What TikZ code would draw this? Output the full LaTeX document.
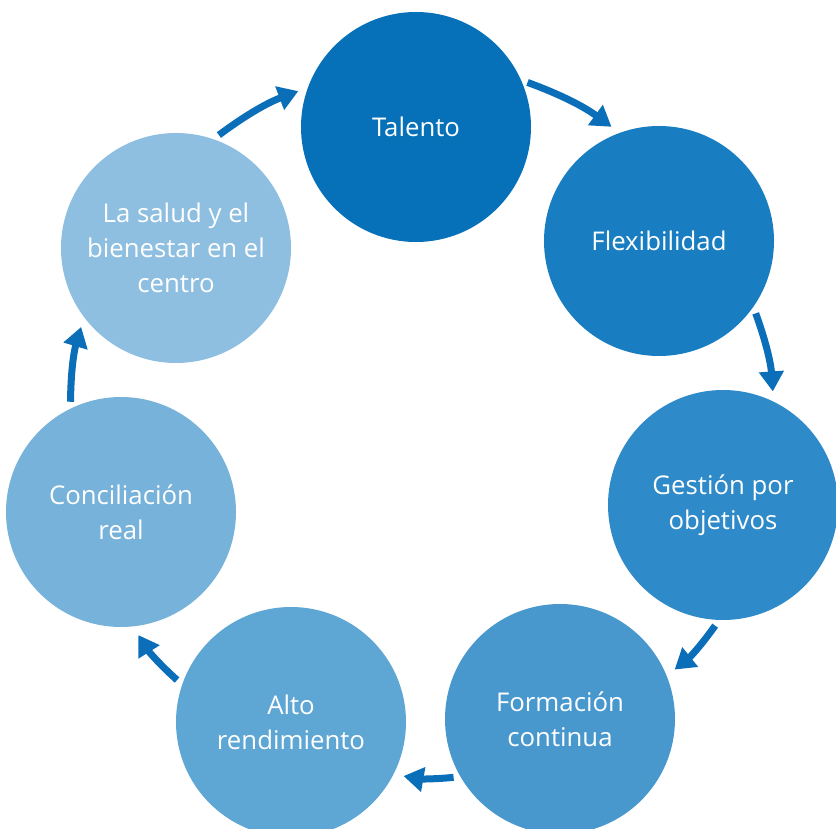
\documentclass[tikz,border=0pt]{standalone}
\usepackage{fontspec}
\setmainfont{Open Sans}
\usetikzlibrary{arrows.meta}
\definecolor{talento}{HTML}{0670B9}
\definecolor{flexi}{HTML}{197EC1}
\definecolor{gestion}{HTML}{2E8AC8}
\definecolor{formacion}{HTML}{4898CE}
\definecolor{alto}{HTML}{5EA6D4}
\definecolor{concilia}{HTML}{77B2DA}
\definecolor{salud}{HTML}{8EBEE0}
\definecolor{flechaazul}{HTML}{0A6FB8}
\begin{document}
\begin{tikzpicture}[x=0.03cm,y=0.03cm,
                        ciclo/.style={shape=circle,minimum size=6.9cm,inner sep=0pt,text=white,align=center,font=\fontsize{22}{30}\selectfont},
                        flecha/.style={-{Triangle[length=0.6cm,width=0.72cm]},line width=0.21cm,color=flechaazul,shorten <=0.2cm,shorten >=0.3cm}]
                        \useasboundingbox (0,0) rectangle (836,828);
                        \node[ciclo,fill=talento] at (416,701) (tal) {Talento};
                        \node[ciclo,fill=flexi] at (659,587) (flex) {Flexibilidad};
                        \node[ciclo,fill=gestion] at (723,323) (ges) {Gestión por\\objetivos};
                        \node[ciclo,fill=formacion] at (560,109) (form) {Formación\\continua};
                        \node[ciclo,fill=alto] at (291,106) (alto) {Alto\\rendimiento};
                        \node[ciclo,fill=concilia] at (121,316) (conc) {Conciliación\\real};
                        \node[ciclo,fill=salud] at (176,580) (sal) {La salud y el\\bienestar en el\\centro};
                        \draw[flecha] (sal.71) to[bend left=8] (tal.160);
                        \draw[flecha] (tal.24) to[bend left=8] (flex.110);
                        \draw[flecha] (flex.-35) to[bend left=8] (ges.64);
                        \draw[flecha] (ges.-92) to[bend left=8] (form.22);
                        \draw[flecha] (form.-150) to[bend left=8] (alto.-27);
                        \draw[flecha] (alto.161) to[bend left=8] (conc.-84);
                        \draw[flecha] (conc.116) to[bend left=8] (sal.-143);
                \end{tikzpicture}
\end{document}
